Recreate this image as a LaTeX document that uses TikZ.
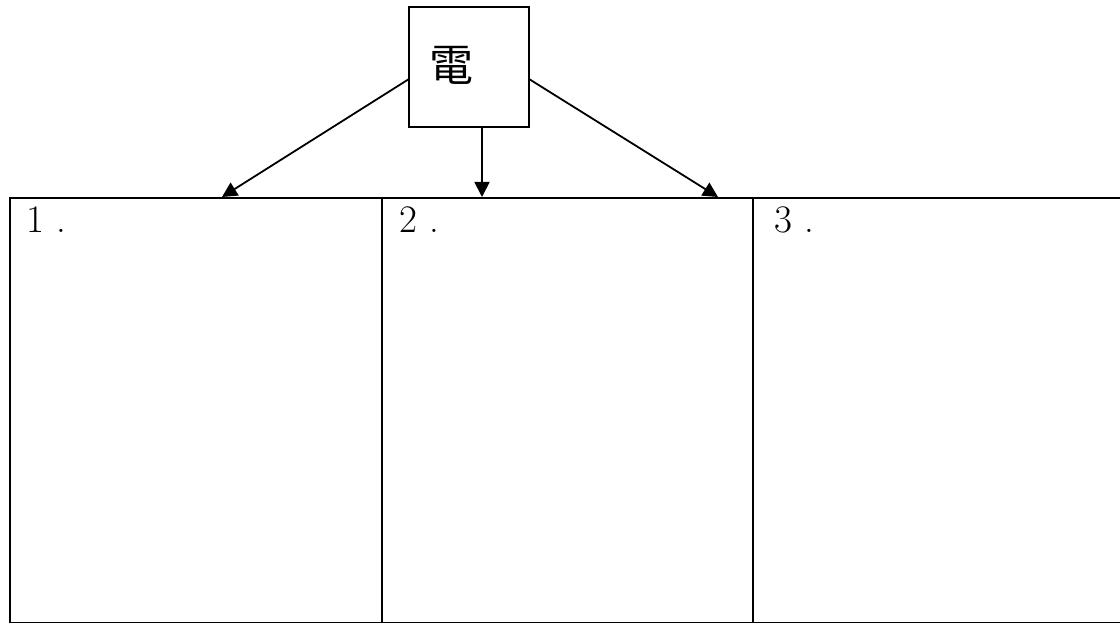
\documentclass[tikz,border=0pt]{standalone}
\usepackage{fontspec}
\newfontfamily\cjk{Noto Sans CJK TC}
\usetikzlibrary{arrows.meta}
\begin{document}
\begin{tikzpicture}[x=1pt,y=-1pt,
  cell/.style={draw,line width=1.8pt,anchor=north west,inner sep=0pt},
  arr/.style={line width=1.8pt,-{Triangle[length=15pt,width=15pt]}},
  num/.style={anchor=base west,inner sep=0pt,font=\fontsize{39}{40}\selectfont}]
\useasboundingbox (0,0) rectangle (1120,623);
\fill[white] (0,0) rectangle (1120,623);
% top box
\node[draw,line width=1.8pt,minimum width=120pt,minimum height=120pt,inner sep=0pt] (top) at (469,67) {};
\node[inner sep=0pt,font=\cjk\fontsize{44}{46}\selectfont] (lab) at (451,65) {電};
% cells
\node[cell,minimum width=372pt,minimum height=425pt] (c1) at (9,197) {};
\node[cell,minimum width=371pt,minimum height=425pt] (c2) at (381,197) {};
\node[cell,minimum width=372pt,minimum height=425pt] (c3) at (752,197) {};
\node[num] (n1) at (26,233) {1\hspace{12pt}.};
\node[num] (n2) at (399,233) {2\hspace{12pt}.};
\node[num] (n3) at (774,233) {3\hspace{12pt}.};
% arrows
\coordinate (t1) at (222,197);
\coordinate (t2) at (482,197);
\coordinate (t3) at (718,197);
\coordinate (s1) at (409,79);
\coordinate (s3) at (529,79);
\draw[arr] (s1) -- (t1);
\draw[arr] (top.south -| t2) -- (t2);
\draw[arr] (s3) -- (t3);
\end{tikzpicture}
\end{document}
